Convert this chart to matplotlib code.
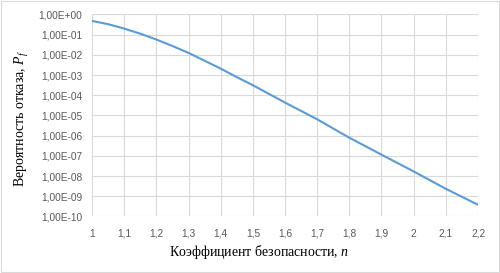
import numpy as np
import matplotlib
matplotlib.use("Agg")
import matplotlib.pyplot as plt
from matplotlib.patches import Rectangle
from matplotlib.ticker import FixedLocator, FuncFormatter

# Data
n_values = [1.0, 1.05, 1.1, 1.15, 1.2, 1.25, 1.3, 1.35, 1.4, 1.45, 1.5,
            1.6, 1.7, 1.8, 1.9, 2.0, 2.1, 2.2]
log_pf = [-0.32, -0.48, -0.70, -0.95, -1.24, -1.56, -1.90, -2.29, -2.68, -3.10, -3.50,
          -4.36, -5.19, -6.10, -6.94, -7.77, -8.63, -9.42]
x_ticks = [1.0, 1.1, 1.2, 1.3, 1.4, 1.5, 1.6, 1.7, 1.8, 1.9, 2.0, 2.1, 2.2]
x_tick_labels = ["1", "1,1", "1,2", "1,3", "1,4", "1,5", "1,6", "1,7", "1,8", "1,9", "2", "2,1", "2,2"]
y_exponents = list(range(0, -11, -1))

xlabel = "Коэффициент безопасности, $n$"
ylabel = "Вероятность отказа, $P_f$"

plt.rcParams['mathtext.fontset'] = 'custom'
plt.rcParams['mathtext.it'] = 'Liberation Serif:italic'
plt.rcParams['mathtext.rm'] = 'Liberation Serif'

fig = plt.figure(figsize=(5.0, 2.73), dpi=100)
ax = fig.add_axes([0.184, 0.207, 0.772, 0.740])

pf = [10.0 ** v for v in log_pf]
ax.plot(n_values, pf, color="#5b9bd5", lw=1.5, solid_capstyle="round")

ax.set_yscale("log")
ax.set_ylim(1e-10, 1e0)
ax.set_xlim(1.0, 2.2)
ax.yaxis.set_major_locator(FixedLocator([10.0 ** e for e in y_exponents]))
ax.yaxis.set_minor_locator(FixedLocator([]))
ax.yaxis.set_major_formatter(FuncFormatter(
    lambda v, p: "1,00E{}{:02d}".format("+" if round(np.log10(v)) >= 0 else "-", abs(int(round(np.log10(v)))))))
ax.set_xticks(x_ticks)
ax.set_xticklabels(x_tick_labels)

ax.grid(True, which="major", color="#d9d9d9", lw=0.8)
ax.set_axisbelow(True)
for s in ["top", "right", "bottom", "left"]:
    ax.spines[s].set_visible(False)
ax.tick_params(axis="both", length=0, labelsize=7.3, labelcolor="#595959")
ax.tick_params(axis="y", pad=7)
ax.tick_params(axis="x", pad=9)
for lab in ax.get_xticklabels() + ax.get_yticklabels():
    lab.set_fontfamily("Liberation Sans")

fig.text(0.518, 0.077, xlabel, ha="center", va="center", fontsize=10,
         family="Liberation Serif", color="#000000")
fig.text(0.044, 0.566, ylabel, ha="center", va="center", fontsize=10,
         family="Liberation Serif", rotation=90, color="#000000")

fig.patches.append(Rectangle((0.002, 0.004), 0.995, 0.992, transform=fig.transFigure,
                             fill=False, edgecolor="#d9d9d9", lw=0.8))

fig.savefig("out.png", dpi=100)
